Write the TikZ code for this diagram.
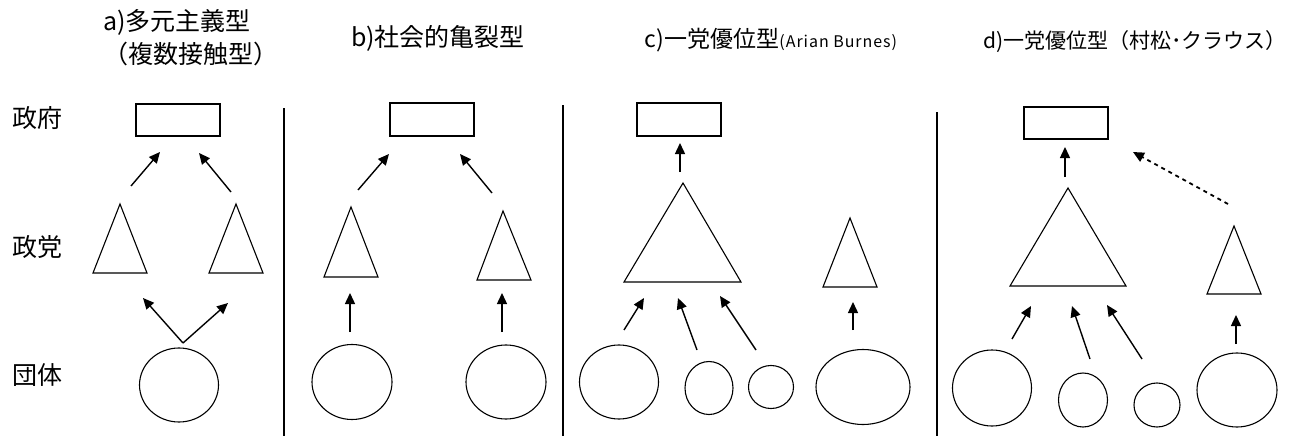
\documentclass[tikz,border=0pt]{standalone}
\usepackage{fontspec}
\setmainfont{Noto Sans CJK JP}
\usetikzlibrary{shapes.geometric,arrows.meta}
\tikzset{
  shp/.style={draw=black,line width=1.1pt},
  box/.style={shp,rectangle,minimum width=84pt,minimum height=32pt,inner sep=0pt,outer sep=0pt},
  blob/.style={shp,ellipse,inner sep=0pt,outer sep=0pt},
  arr/.style={line width=1.4pt,-{Triangle[length=11pt,width=10pt]}},
  darr/.style={line width=1.8pt,dash pattern=on 4pt off 4pt,-{Triangle[length=11pt,width=10pt]}},
  sep/.style={line width=1.2pt},
  rowlab/.style={font=\fontsize{25pt}{28pt}\selectfont,inner sep=0pt},
  ttl/.style={font=\fontsize{25pt}{33pt}\selectfont,inner sep=0pt}
}
\begin{document}
\begin{tikzpicture}[x=1pt,y=-1pt]
\useasboundingbox (0,0) rectangle (1291,436);
% row labels
\node[rowlab,anchor=west] (lgov) at (12,118) {政府};
\node[rowlab,anchor=west] (lpar) at (12,247) {政党};
\node[rowlab,anchor=west] (lgrp) at (12,375) {団体};
% titles
\node[ttl,anchor=west,align=left] (ta) at (103,38) {a)多元主義型\\（複数接触型）};
\node[ttl] (tb) at (438,38) {b)社会的亀裂型};
\node[inner sep=0pt] (tc) at (771,40) {\fontsize{23pt}{26pt}\selectfont c)一党優位型\fontsize{16pt}{18pt}\selectfont\addfontfeature{LetterSpace=6}(Arian Burnes)};
\node[inner sep=0pt] (td) at (1135,42) {\fontsize{21pt}{24pt}\selectfont d)一党優位型（村松･クラウス）};
% separators
\coordinate (s1t) at (284,108); \coordinate (s1b) at (284,436);
\coordinate (s2t) at (563,105); \coordinate (s2b) at (563,436);
\coordinate (s3t) at (937,112); \coordinate (s3b) at (937,436);
\draw[sep] (s1t) -- (s1b);
\draw[sep] (s2t) -- (s2b);
\draw[sep] (s3t) -- (s3b);

% ---------- a ----------
\node[box] (ga) at (178,120) {};
\coordinate (pa1) at (120,204); \coordinate (pa2) at (236,204);
\draw[shp,line join=miter] (pa1) -- (147,273) -- (93,273) -- cycle;
\draw[shp,line join=miter] (pa2) -- (263,273) -- (209,273) -- cycle;
\node[blob,minimum width=79pt,minimum height=74pt] (oa) at (179,385) {};
\coordinate (a1s) at (131,186); \coordinate (a1e) at (160,152);
\coordinate (a2s) at (231,192); \coordinate (a2e) at (199,153);
\coordinate (a3s) at (183,343); \coordinate (a3e) at (143,298);
\coordinate (a4e) at (228,303);
\draw[arr] (a1s) -- (a1e);
\draw[arr] (a2s) -- (a2e);
\draw[arr] (a3s) -- (a3e);
\draw[arr] (a3s) -- (a4e);

% ---------- b ----------
\node[box,minimum height=33pt] (gb) at (432,119.5) {};
\coordinate (pb1) at (351,207); \coordinate (pb2) at (503,211);
\draw[shp,line join=miter] (pb1) -- (378,277) -- (324,277) -- cycle;
\draw[shp,line join=miter] (pb2) -- (531,280) -- (477,280) -- cycle;
\node[blob,minimum width=80pt,minimum height=75pt] (ob1) at (352,382) {};
\node[blob,minimum width=80pt,minimum height=74pt] (ob2) at (506,382) {};
\coordinate (b1s) at (358,190); \coordinate (b1e) at (389,154);
\coordinate (b2s) at (492,193); \coordinate (b2e) at (460,154);
\coordinate (b3s) at (350,332); \coordinate (b3e) at (350,293);
\coordinate (b4s) at (502,332); \coordinate (b4e) at (502,293);
\draw[arr] (b1s) -- (b1e);
\draw[arr] (b2s) -- (b2e);
\draw[arr] (b3s) -- (b3e);
\draw[arr] (b4s) -- (b4e);

% ---------- c ----------
\node[box,minimum height=33pt] (gc) at (679,119.5) {};
\coordinate (pc1) at (683,183); \coordinate (pc2) at (850,218);
\draw[shp,line join=miter] (pc1) -- (741,282) -- (624,282) -- cycle;
\draw[shp,line join=miter] (pc2) -- (877,287) -- (823,287) -- cycle;
\node[blob,minimum width=79pt,minimum height=74pt] (oc1) at (619,382) {};
\node[blob,minimum width=48pt,minimum height=53pt] (oc2) at (709,388) {};
\node[blob,minimum width=45pt,minimum height=43pt] (oc3) at (771,387) {};
\node[blob,minimum width=94pt,minimum height=75pt] (oc4) at (863,387) {};
\coordinate (c0s) at (680,172); \coordinate (c0e) at (680,143);
\coordinate (c1s) at (624,330); \coordinate (c1e) at (644,298);
\coordinate (c2s) at (697,350); \coordinate (c2e) at (678,298);
\coordinate (c3s) at (756,350); \coordinate (c3e) at (720,296);
\coordinate (c4s) at (853,330); \coordinate (c4e) at (853,302);
\draw[arr] (c0s) -- (c0e);
\draw[arr] (c1s) -- (c1e);
\draw[arr] (c2s) -- (c2e);
\draw[arr] (c3s) -- (c3e);
\draw[arr] (c4s) -- (c4e);

% ---------- d ----------
\node[box] (gd) at (1066,123) {};
\coordinate (pd1) at (1068,188); \coordinate (pd2) at (1234,226);
\draw[shp,line join=miter] (pd1) -- (1126,286) -- (1010,286) -- cycle;
\draw[shp,line join=miter] (pd2) -- (1261,294) -- (1207,294) -- cycle;
\node[blob,minimum width=79pt,minimum height=76pt] (od1) at (992,388) {};
\node[blob,minimum width=49pt,minimum height=54pt] (od2) at (1083,400) {};
\node[blob,minimum width=46pt,minimum height=44pt] (od3) at (1157,405) {};
\node[blob,minimum width=80pt,minimum height=74pt] (od4) at (1237,390) {};
\coordinate (d0s) at (1065,177); \coordinate (d0e) at (1065,147);
\coordinate (d5s) at (1228,204); \coordinate (d5e) at (1133,152);
\coordinate (d1s) at (1012,339); \coordinate (d1e) at (1031,306);
\coordinate (d2s) at (1090,359); \coordinate (d2e) at (1072,306);
\coordinate (d3s) at (1142,359); \coordinate (d3e) at (1107,305);
\coordinate (d4s) at (1236,344); \coordinate (d4e) at (1236,315);
\draw[arr] (d0s) -- (d0e);
\draw[darr] (d5s) -- (d5e);
\draw[arr] (d1s) -- (d1e);
\draw[arr] (d2s) -- (d2e);
\draw[arr] (d3s) -- (d3e);
\draw[arr] (d4s) -- (d4e);
\end{tikzpicture}
\end{document}
